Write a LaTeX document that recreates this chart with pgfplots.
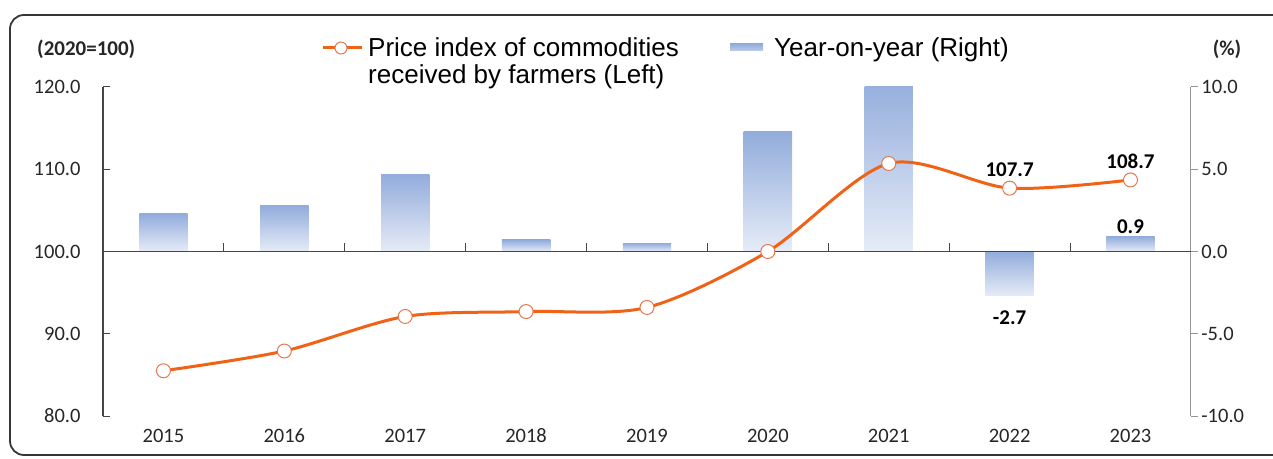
\documentclass[border=0pt]{standalone}
\usepackage{fontspec}
\setmainfont{Carlito}
\newfontfamily\arialfont{Liberation Sans}
\usepackage{pgfplots}
\usepackage{pgfplotstable}
\pgfplotsset{compat=1.18}

\definecolor{lineOrange}{RGB}{240,98,22}
\definecolor{markEdge}{RGB}{228,120,80}
\definecolor{barTop}{RGB}{146,172,220}
\definecolor{barBot}{RGB}{230,236,247}
\definecolor{axisDark}{RGB}{70,70,70}
\definecolor{axisLight}{RGB}{150,150,150}
\definecolor{frameGray}{RGB}{55,55,55}

% price index of commodities received by farmers (left axis)
\pgfplotstableread{
x year index
0 2015 85.5
1 2016 87.9
2 2017 92.1
3 2018 92.7
4 2019 93.2
5 2020 100.0
6 2021 110.7
7 2022 107.7
8 2023 108.7
}\farmdata

\pgfplotsset{
  twin/.style={
    scale only axis, width=1088pt, height=329pt,
    at={(103pt,42pt)}, anchor=south west,
    xmin=-0.5, xmax=8.5,
    tick label style={font=\fontsize{20.5}{20.5}\selectfont, text=black!85},
    yticklabel style={/pgf/number format/fixed, /pgf/number format/fixed zerofill,
      /pgf/number format/precision=1, /pgf/number format/assume math mode=true},
    major tick length=7pt,
  },
  % one path per bar, so that every bar gets its own gradient
  yoybar/.style={ybar, bar width=0.4, bar shift=0pt, draw=none,
    top color=barTop, bottom color=barBot},
}

\begin{document}
\begin{tikzpicture}[x=1pt,y=1pt]
\path[use as bounding box] (0,0) rectangle (1273,458);
\draw[frameGray, line width=1.8pt, rounded corners=14pt] (10,3) rectangle (1310,443);

% year-on-year bars, right axis
\begin{axis}[twin,
    ymin=-10, ymax=10,
    axis y line*=right, axis x line=none,
    ytick={-10,-5,0,5,10},
    y axis line style={axisLight, line width=1pt},
    y tick style={axisLight, line width=1pt},
    tick align=outside,
  ]
  \addplot[yoybar] coordinates {(0,2.3)};
  \addplot[yoybar] coordinates {(1,2.8)};
  \addplot[yoybar] coordinates {(2,4.7)};
  \addplot[yoybar] coordinates {(3,0.7)};
  \addplot[yoybar] coordinates {(4,0.5)};
  \addplot[yoybar] coordinates {(5,7.3)};
  \addplot[yoybar] coordinates {(6,10.7)};
  \addplot[yoybar] coordinates {(7,-2.7)};
  \addplot[yoybar] coordinates {(8,0.9)};
  \draw[axisDark, line width=1.6pt] (axis cs:-0.5,0) -- (axis cs:8.5,0);
  \pgfplotsinvokeforeach{0.5,1.5,...,7.5}{
    \draw[axisDark, line width=1pt] (axis cs:#1,0) -- ++(0pt,8pt);
  }
  \addplot[draw=none, nodes near coords, point meta=explicit symbolic,
    nodes near coords style={font=\bfseries\fontsize{21}{21}\selectfont, anchor=south, yshift=0pt}]
    coordinates {(8,0.9)[0.9]};
  \addplot[draw=none, nodes near coords, point meta=explicit symbolic,
    nodes near coords style={font=\bfseries\fontsize{21}{21}\selectfont, anchor=north, yshift=-11pt}]
    coordinates {(7,-2.7)[-2.7]};
\end{axis}

% price index line, left axis
\begin{axis}[twin,
    ymin=80, ymax=120,
    axis y line*=left, axis x line*=bottom,
    x axis line style={draw=none},
    xtick={0,...,8},
    xticklabels={2015,2016,2017,2018,2019,2020,2021,2022,2023},
    x tick style={draw=none},
    xticklabel style={yshift=-10pt, text height=13pt, text depth=0pt},
    ytick={80,90,...,120},
    y axis line style={axisDark, line width=1.2pt},
    y tick style={axisDark, line width=1pt},
    tick align=inside,
    y tick label style={xshift=-19pt},
  ]
  \addplot[lineOrange, line width=3pt, smooth, mark=*, mark size=7pt,
    mark options={fill=white, draw=markEdge, line width=1pt}]
    table[x=x, y=index] {\farmdata};
  \addplot[draw=none, nodes near coords, point meta=explicit symbolic,
    nodes near coords style={font=\bfseries\fontsize{21}{21}\selectfont, anchor=south, yshift=8pt}]
    coordinates {(7,107.7)[107.7] (8,108.7)[108.7]};
\end{axis}

% unit captions
\node[anchor=west, inner sep=0pt, font=\bfseries\fontsize{21}{21}\selectfont, text=black!85] at (37,409) {(2020=100)};
\node[font=\bfseries\fontsize{21}{21}\selectfont, text=black!85] at (1227,409) {(\%)};

% legend
\draw[lineOrange, line width=3pt] (323,410) -- (362,410);
\draw[markEdge, fill=white, line width=1pt] (341,410) circle (6);
\node[anchor=north west, align=left, inner sep=0pt, font=\arialfont\fontsize{26}{27}\selectfont]
  at (368,421) {Price index of commodities\\received by farmers (Left)};
\shade[top color=barTop, bottom color=barTop!60] (730,407) rectangle (763,414);
\node[anchor=north west, inner sep=0pt, font=\arialfont\fontsize{26}{27}\selectfont]
  at (774,421) {Year-on-year (Right)};
\end{tikzpicture}
\end{document}
